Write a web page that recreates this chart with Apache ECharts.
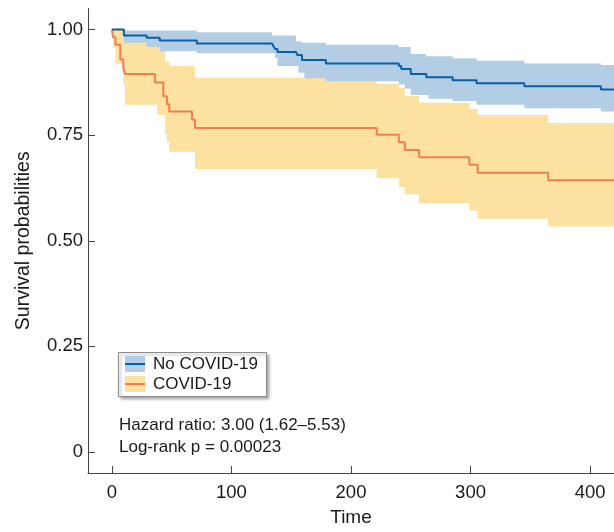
<!DOCTYPE html>
<html>
<head>
<meta charset="utf-8">
<script src="https://cdn.jsdelivr.net/npm/echarts/dist/echarts.min.js"></script>
<style>
  html, body { margin: 0; padding: 0; background: #fff; }
  #chart { width: 614px; height: 532px; }
</style>
</head>
<body>
<div id="chart"></div>
<script>
// Kaplan-Meier steps
const noCovidTime = [0, 10, 29, 40, 71, 134, 135, 136.5, 138.5, 154, 155, 156, 159, 161, 179, 240, 242, 245, 250, 263, 265, 285, 305, 345, 409]
const noCovidSurv = [1.000, 0.986, 0.981, 0.974, 0.967, 0.967, 0.961, 0.954, 0.947, 0.947, 0.940, 0.940, 0.928, 0.928, 0.920, 0.914, 0.907, 0.907, 0.895, 0.887, 0.887, 0.880, 0.873, 0.866, 0.858]
const noCovidUpper = [1.000, 0.998, 0.998, 0.998, 0.994, 0.986, 0.986, 0.986, 0.986, 0.972, 0.972, 0.972, 0.969, 0.969, 0.964, 0.959, 0.959, 0.959, 0.942, 0.937, 0.937, 0.932, 0.926, 0.920, 0.916]
const noCovidLower = [1.000, 0.969, 0.959, 0.949, 0.944, 0.944, 0.944, 0.932, 0.914, 0.914, 0.914, 0.898, 0.898, 0.885, 0.878, 0.870, 0.870, 0.860, 0.845, 0.845, 0.836, 0.831, 0.822, 0.814, 0.806]

const covidTime = [0, 1, 3, 7, 9.5, 11, 36, 38, 40, 43, 44.5, 46, 48, 67, 69.5, 221.5, 240, 245, 257, 299, 306, 365]
const covidSurv = [1.000, 0.982, 0.964, 0.929, 0.910, 0.895, 0.875, 0.875, 0.875, 0.842, 0.842, 0.823, 0.806, 0.787, 0.767, 0.751, 0.733, 0.715, 0.698, 0.680, 0.661, 0.643]
const covidUpper = [1.000, 1.000, 1.000, 1.000, 1.000, 0.978, 0.978, 0.978, 0.963, 0.963, 0.924, 0.924, 0.914, 0.914, 0.886, 0.871, 0.862, 0.843, 0.827, 0.812, 0.798, 0.779]
const covidLower = [1.000, 0.958, 0.920, 0.920, 0.870, 0.822, 0.822, 0.798, 0.798, 0.798, 0.753, 0.733, 0.711, 0.711, 0.670, 0.648, 0.627, 0.610, 0.589, 0.571, 0.552, 0.534]

const xTicks = [0, 100, 200, 300, 400]
const yTicks = [0, 0.25, 0.5, 0.75, 1]
const yTickLabels = ['0', '0.25', '0.50', '0.75', '1.00']
const seriesNames = ['No COVID-19', 'COVID-19']
const notes = ['Hazard ratio: 3.00 (1.62\u20135.53)', 'Log-rank p = 0.00023']

const X_MIN = -20
const X_MAX = 420
const FONT = '"Liberation Sans", Arial, sans-serif'
const TEXT = '#1a1a1a'
const AXIS = '#444'

const BLUE = '#0b5fa8'
const BLUE_BAND = '#b3cee4'
const ORANGE = '#ef7f4f'
const ORANGE_BAND = '#fce1a0'

// step points, the last value runs to the right edge
function stepData(times, values) {
  const out = times.map((t, i) => [t, values[i]])
  out.push([X_MAX, values[values.length - 1]])
  return out
}

// confidence band as one step polygon
function bandRenderer(times, upper, lower, color) {
  return function (params, api) {
    const n = times.length
    const pts = []
    for (let i = 0; i < n; i++) {
      const t1 = i + 1 < n ? times[i + 1] : X_MAX
      pts.push(api.coord([times[i], upper[i]]), api.coord([t1, upper[i]]))
    }
    for (let i = n - 1; i >= 0; i--) {
      const t1 = i + 1 < n ? times[i + 1] : X_MAX
      pts.push(api.coord([t1, lower[i]]), api.coord([times[i], lower[i]]))
    }
    return {
      type: 'polygon',
      shape: { points: pts },
      style: { fill: color, blend: 'multiply' }
    }
  }
}

const chart = echarts.init(document.getElementById('chart'))

const option = {
  animation: false,
  backgroundColor: '#fff',
  grid: { left: 88, right: -4, top: 8.5, bottom: 52.5, containLabel: false },
  xAxis: {
    type: 'value',
    min: X_MIN,
    max: X_MAX,
    name: 'Time',
    nameLocation: 'middle',
    nameGap: 35,
    nameTextStyle: { fontFamily: FONT, fontSize: 19, color: TEXT },
    splitLine: { show: false },
    axisLine: { show: true, onZero: false, lineStyle: { color: AXIS, width: 1 } },
    axisTick: { show: true, inside: true, length: 7, customValues: xTicks, lineStyle: { color: AXIS } },
    axisLabel: { customValues: xTicks, margin: 10, fontFamily: FONT, fontSize: 18.5, color: TEXT }
  },
  yAxis: {
    type: 'value',
    min: -0.05,
    max: 1.05,
    name: 'Survival probabilities',
    nameLocation: 'middle',
    nameGap: 54,
    nameTextStyle: { fontFamily: FONT, fontSize: 19.5, color: TEXT },
    splitLine: { show: false },
    axisLine: { show: true, onZero: false, lineStyle: { color: AXIS, width: 1 } },
    axisTick: { show: true, inside: true, length: 7, customValues: yTicks, lineStyle: { color: AXIS } },
    axisLabel: {
      customValues: yTicks,
      margin: 5,
      padding: [0, 0, 8, 0],
      fontFamily: FONT,
      fontSize: 18.5,
      color: TEXT,
      formatter: v => yTickLabels[yTicks.indexOf(v)]
    }
  },
  series: [
    {
      type: 'custom',
      name: seriesNames[1] + ' band',
      clip: true,
      silent: true,
      data: [[0, 0]],
      renderItem: bandRenderer(covidTime, covidUpper, covidLower, ORANGE_BAND)
    },
    {
      type: 'custom',
      name: seriesNames[0] + ' band',
      clip: true,
      silent: true,
      data: [[0, 0]],
      renderItem: bandRenderer(noCovidTime, noCovidUpper, noCovidLower, BLUE_BAND)
    },
    {
      type: 'line',
      name: seriesNames[1],
      step: 'end',
      showSymbol: false,
      lineStyle: { color: ORANGE, width: 2 },
      data: stepData(covidTime, covidSurv)
    },
    {
      type: 'line',
      name: seriesNames[0],
      step: 'end',
      showSymbol: false,
      lineStyle: { color: BLUE, width: 2 },
      data: stepData(noCovidTime, noCovidSurv)
    }
  ],
  graphic: [
    // legend box
    {
      type: 'rect',
      shape: { x: 118.5, y: 352.5, width: 148, height: 44 },
      style: {
        fill: '#fff', stroke: '#8a8a8a', lineWidth: 1,
        shadowBlur: 3, shadowOffsetX: 2, shadowOffsetY: 2, shadowColor: 'rgba(0,0,0,0.35)'
      }
    },
    { type: 'rect', shape: { x: 125, y: 356, width: 20, height: 16 }, style: { fill: BLUE_BAND } },
    { type: 'line', shape: { x1: 125, y1: 364, x2: 145, y2: 364 }, style: { stroke: BLUE, lineWidth: 2 } },
    {
      type: 'text', x: 153, y: 364,
      style: { text: seriesNames[0], fontFamily: FONT, fontSize: 17, fill: TEXT, verticalAlign: 'middle' }
    },
    { type: 'rect', shape: { x: 125, y: 376, width: 20, height: 16 }, style: { fill: ORANGE_BAND } },
    { type: 'line', shape: { x1: 125, y1: 384, x2: 145, y2: 384 }, style: { stroke: ORANGE, lineWidth: 2 } },
    {
      type: 'text', x: 153, y: 384.5,
      style: { text: seriesNames[1], fontFamily: FONT, fontSize: 17, fill: TEXT, verticalAlign: 'middle' }
    },
    // hazard ratio and log-rank test
    {
      type: 'text', x: 119, y: 425.5,
      style: { text: notes[0], fontFamily: FONT, fontSize: 17, fill: TEXT, verticalAlign: 'middle' }
    },
    {
      type: 'text', x: 119, y: 447,
      style: { text: notes[1], fontFamily: FONT, fontSize: 17, fill: TEXT, verticalAlign: 'middle' }
    }
  ]
}

chart.setOption(option)
</script>
</body>
</html>
